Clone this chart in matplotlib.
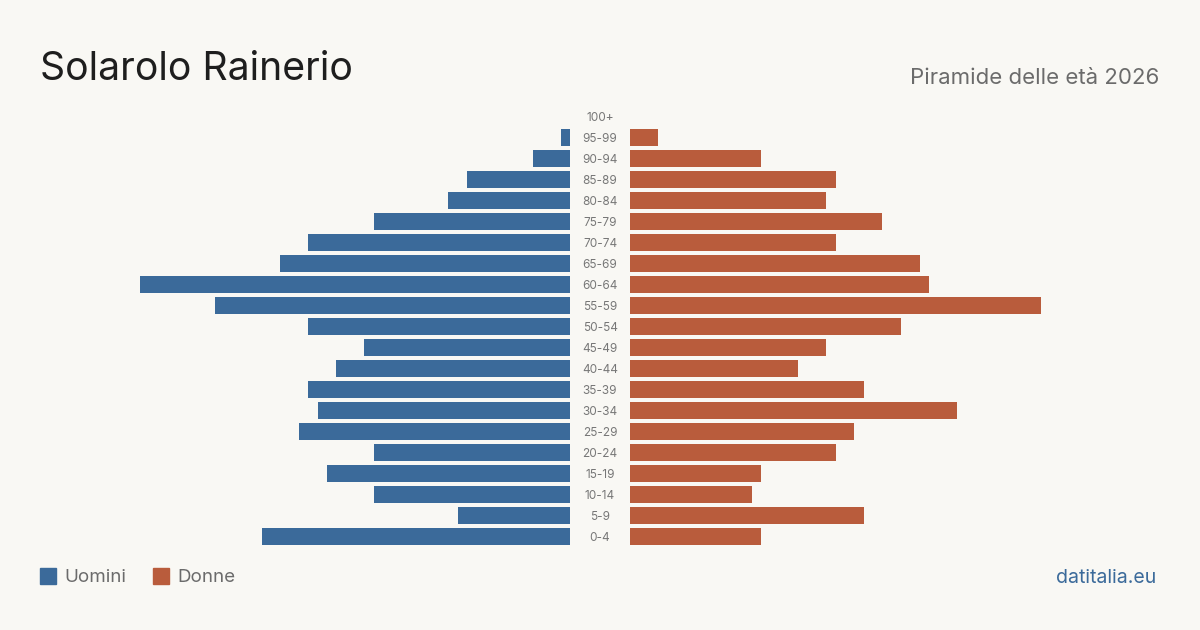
import matplotlib
matplotlib.use("Agg")
import matplotlib.pyplot as plt
from matplotlib.patches import Rectangle

age_groups = ["0-4", "5-9", "10-14", "15-19", "20-24", "25-29", "30-34", "35-39",
              "40-44", "45-49", "50-54", "55-59", "60-64", "65-69", "70-74",
              "75-79", "80-84", "85-89", "90-94", "95-99", "100+"]
men = [33, 12, 21, 26, 21, 29, 27, 28, 25, 22, 28, 38, 46, 31, 28, 21, 13, 11, 4, 1, 0]
women = [14, 25, 13, 14, 22, 24, 35, 25, 18, 21, 29, 44, 32, 31, 22, 27, 21, 22, 14, 3, 0]

title = "Solarolo Rainerio"
subtitle = "Piramide delle età 2026"
legend_labels = ["Uomini", "Donne"]
source = "datitalia.eu"

BG = "#f9f8f4"
BLUE = "#3b6a9a"
ORANGE = "#b95c3c"
FONT = ["Inter", "DejaVu Sans"]

plt.rcParams['font.family'] = FONT

W, H = 1200, 630
fig = plt.figure(figsize=(12, 6.3), dpi=100, facecolor=BG)

vmax = max(max(men), max(women))
ax_bottom = 1 - 547 / H
ax_height = 441 / H
axL = fig.add_axes([140 / W, ax_bottom, 430 / W, ax_height])
axR = fig.add_axes([630 / W, ax_bottom, 430 / W, ax_height])

ypos = list(range(len(age_groups)))
axL.barh(ypos, men, height=0.81, color=BLUE)
axR.barh(ypos, women, height=0.81, color=ORANGE)
axL.set_xlim(vmax, 0)
axR.set_xlim(0, vmax)
for ax in (axL, axR):
    ax.set_ylim(-0.5, len(age_groups) - 0.5)
    ax.axis("off")
    ax.set_facecolor("none")

# age labels in the middle
for i, lab in enumerate(age_groups):
    y_fig = ax_bottom + (i + 0.5) / len(age_groups) * ax_height - 1.5 / H
    fig.text(600 / W, y_fig, lab, ha="center", va="center", fontsize=8.5, color="#777777")

fig.text(40 / W, 1 - 69 / H, title, ha="left", va="center", fontsize=28.2, color="#1e1e1e")
fig.text(1159 / W, 1 - 78 / H, subtitle, ha="right", va="center", fontsize=16, color="#6b6b6b")

# legend
for x0, lab, col in [(40, legend_labels[0], BLUE), (153, legend_labels[1], ORANGE)]:
    fig.patches.append(Rectangle((x0 / W, 1 - 584 / H), 16 / W, 16 / H,
                                 transform=fig.transFigure, color=col))
    fig.text((x0 + 24) / W, 1 - 578 / H, lab, ha="left", va="center", fontsize=13.5, color="#6b6b6b")

fig.text(1156 / W, 1 - 578 / H, source, ha="right", va="center", fontsize=14, color=BLUE)

fig.savefig("out.png", dpi=100, facecolor=BG)
